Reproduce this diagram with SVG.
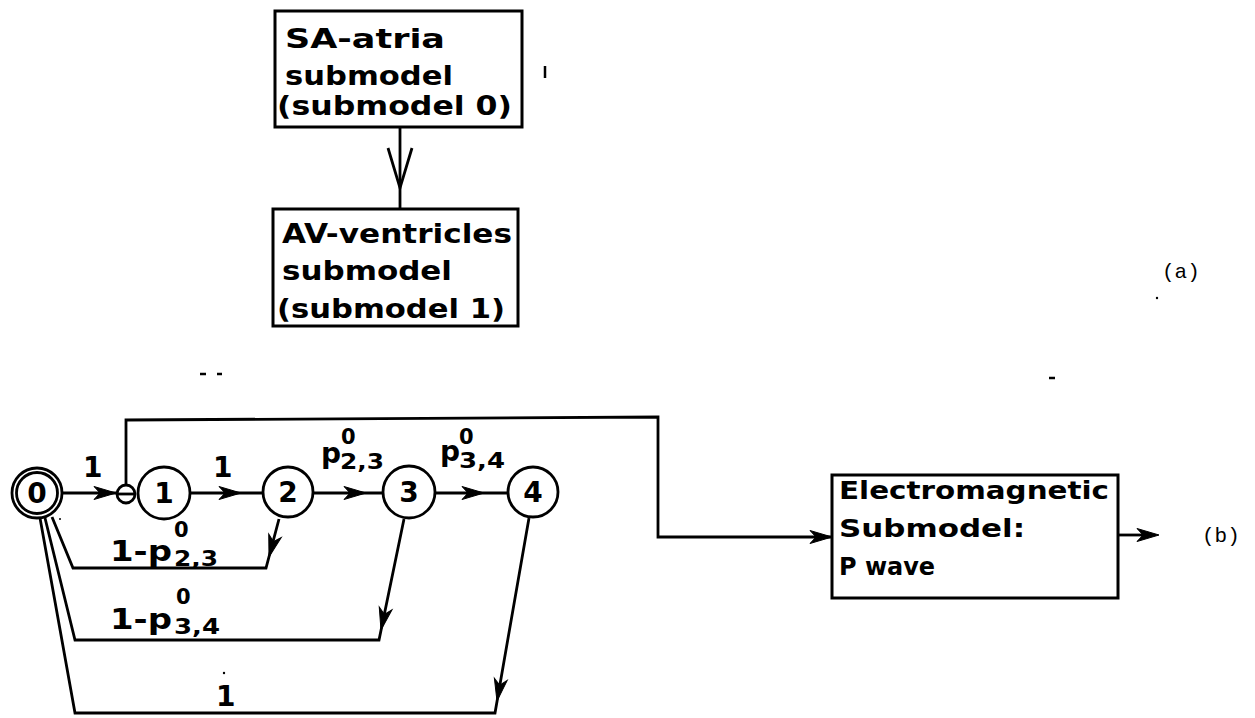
<svg xmlns="http://www.w3.org/2000/svg" xmlns:xlink="http://www.w3.org/1999/xlink" width="1255" height="718" viewBox="0 0 1255 718">
<style>
.bx{fill:none;stroke:#000;stroke-width:3}
.ln{fill:none;stroke:#000;stroke-width:2.8;stroke-linejoin:miter}
.nd{fill:#fff;stroke:#000;stroke-width:2.8}
.t{font-family:"DejaVu Sans","Liberation Sans",sans-serif;font-weight:bold;fill:#000}
.bt{font-size:26px}
.et{font-size:25px}
.nl{font-size:28px;text-anchor:middle}
.lb{font-size:28px}
.sm{font-size:21px}
.m{font-family:"Liberation Mono","DejaVu Sans Mono",monospace;font-size:21px;fill:#000}
.ah{fill:#000;stroke:#000;stroke-width:1}
</style>
<defs>
<path id="ah" d="M0,0 L-22,-6.5 L-16,0 L-22,6.5 Z"/>
</defs>
<rect width="1255" height="718" fill="#fff"/>

<g id="connectors">
<line class="ln" x1="400" y1="127" x2="400" y2="209"/>
<polyline class="ln" points="388,148 400,188 412,148"/>
<line class="ln" x1="63" y1="493" x2="117" y2="493"/>
<use xlink:href="#ah" class="ah" transform="translate(116,493)"/>
<line class="ln" x1="190" y1="493" x2="263" y2="493"/>
<use xlink:href="#ah" class="ah" transform="translate(241,493)"/>
<line class="ln" x1="313" y1="493" x2="383" y2="493"/>
<use xlink:href="#ah" class="ah" transform="translate(366,493)"/>
<line class="ln" x1="435" y1="493" x2="508" y2="493"/>
<use xlink:href="#ah" class="ah" transform="translate(484,493)"/>
<polyline class="ln" points="126,485 126,420 658,417 658,537 832,537"/>
<use xlink:href="#ah" class="ah" transform="translate(832,537)"/>
<line class="ln" x1="1118" y1="535" x2="1150" y2="535"/>
<use xlink:href="#ah" class="ah" transform="translate(1159,535)"/>
<polyline class="ln" points="279,519 266,568 73,568 52,517"/>
<use xlink:href="#ah" class="ah" transform="translate(269,557) rotate(105.8)"/>
<polyline class="ln" points="404,519 379,640 75,640 45,518"/>
<use xlink:href="#ah" class="ah" transform="translate(381,630) rotate(102.1)"/>
<polyline class="ln" points="529,518 495,713 75,713 40,518"/>
<use xlink:href="#ah" class="ah" transform="translate(497,701) rotate(99.9)"/>
</g>

<g id="sa-atria">
<rect class="bx" x="275" y="11" width="247" height="116"/>
<text class="t bt" x="285" y="48" textLength="160" lengthAdjust="spacingAndGlyphs">SA-atria</text>
<text class="t bt" x="285" y="85" textLength="168" lengthAdjust="spacingAndGlyphs">submodel</text>
<text class="t bt" x="277" y="115" textLength="235" lengthAdjust="spacingAndGlyphs">(submodel 0)</text>
</g>

<g id="av-ventricles">
<rect class="bx" x="273" y="209" width="245" height="117"/>
<text class="t bt" x="282" y="243" textLength="230" lengthAdjust="spacingAndGlyphs">AV-ventricles</text>
<text class="t bt" x="282" y="280" textLength="170" lengthAdjust="spacingAndGlyphs">submodel</text>
<text class="t bt" x="277" y="318" textLength="228" lengthAdjust="spacingAndGlyphs">(submodel 1)</text>
</g>

<g id="electromagnetic">
<rect class="bx" x="832" y="475" width="286" height="123"/>
<text class="t et" x="839" y="499" textLength="270" lengthAdjust="spacingAndGlyphs">Electromagnetic</text>
<text class="t et" x="839" y="537" textLength="186" lengthAdjust="spacingAndGlyphs">Submodel:</text>
<text class="t et" x="839" y="575" textLength="96" lengthAdjust="spacingAndGlyphs">P wave</text>
</g>

<g id="state0">
<circle class="nd" cx="37" cy="493" r="25"/>
<circle class="nd" cx="37" cy="493" r="20.5"/>
<text class="t nl" x="37" y="503">0</text>
</g>
<g id="junction">
<circle class="nd" cx="126" cy="494" r="9"/>
<line class="ln" x1="117" y1="494" x2="135" y2="494"/>
</g>
<g id="state1">
<circle class="nd" cx="164" cy="493" r="26"/>
<text class="t nl" x="164" y="503">1</text>
</g>
<g id="state2">
<circle class="nd" cx="288" cy="492" r="25"/>
<text class="t nl" x="288" y="502">2</text>
</g>
<g id="state3">
<circle class="nd" cx="409" cy="492" r="26"/>
<text class="t nl" x="409" y="502">3</text>
</g>
<g id="state4">
<circle class="nd" cx="533" cy="492" r="25"/>
<text class="t nl" x="533" y="502">4</text>
</g>

<g id="labels">
<text class="t lb" x="83" y="477">1</text>
<text class="t lb" x="213" y="477">1</text>
<text class="t lb" x="321" y="463">p</text>
<text class="t sm" x="341" y="444">0</text>
<text class="t sm" x="340" y="469" textLength="44" lengthAdjust="spacingAndGlyphs">2,3</text>
<text class="t lb" x="440" y="461">p</text>
<text class="t sm" x="459" y="444">0</text>
<text class="t sm" x="459" y="468" textLength="46" lengthAdjust="spacingAndGlyphs">3,4</text>
<text class="t lb" x="110" y="561" textLength="62" lengthAdjust="spacingAndGlyphs">1-p</text>
<text class="t sm" x="174" y="537">0</text>
<text class="t sm" x="174" y="566" textLength="44" lengthAdjust="spacingAndGlyphs">2,3</text>
<text class="t lb" x="110" y="629" textLength="62" lengthAdjust="spacingAndGlyphs">1-p</text>
<text class="t sm" x="176" y="604">0</text>
<text class="t sm" x="174" y="634" textLength="46" lengthAdjust="spacingAndGlyphs">3,4</text>
<text class="t lb" x="216" y="706">1</text>
<text class="m" x="1162" y="278">(a)</text>
<text class="m" x="1202" y="542">(b)</text>
</g>

<g id="specks" fill="#000" stroke="#000" stroke-width="2.5">
<line x1="545" y1="66" x2="545" y2="78"/>
<line x1="200" y1="374" x2="206" y2="374"/>
<line x1="217" y1="374" x2="222" y2="374"/>
<line x1="1049" y1="378" x2="1055" y2="378"/>
<circle cx="1157" cy="298" r="1.2" stroke="none"/>
<circle cx="60" cy="519" r="1" stroke="none"/>
<circle cx="224" cy="673" r="1.2" stroke="none"/>
</g>
</svg>
